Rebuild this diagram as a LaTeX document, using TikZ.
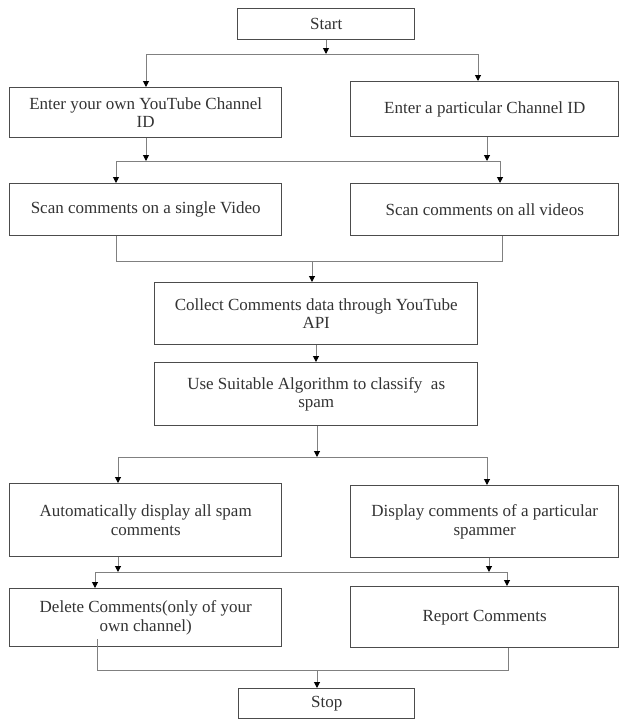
\documentclass[tikz,border=0pt]{standalone}
\usepackage{fontspec}
\setmainfont{Liberation Serif}
\usetikzlibrary{arrows.meta}
\begin{document}
\begin{tikzpicture}[x=1pt,y=-1pt,
  box/.style={draw=black!70, line width=1.4pt, fill=white, text=black!80,
    font=\fontsize{17}{18.5}\selectfont, align=center, inner sep=0pt, anchor=north west},
  conn/.style={draw=black!50, line width=1pt},
  arr/.style={conn, -{Triangle[length=6pt,width=6pt,color=black]}}
]
\useasboundingbox (0,0) rectangle (619,720);

% boxes
\node[box, minimum width=177pt, minimum height=31pt] (start) at (237,8) {Start};
\node[box, minimum width=272pt, minimum height=50pt] (a1) at (9,87) {Enter your own YouTube Channel\\ID};
\node[box, minimum width=268pt, minimum height=55pt] (b1) at (350,81) {Enter a particular Channel ID};
\node[box, minimum width=272pt, minimum height=52pt] (a2) at (9,183) {Scan comments on a single Video};
\node[box, minimum width=268pt, minimum height=52pt] (b2) at (350,183) {Scan comments on all videos};
\node[box, minimum width=323pt, minimum height=62pt] (c) at (154,282) {Collect Comments data through YouTube\\API};
\node[box, minimum width=323pt, minimum height=63pt] (d) at (154,362) {Use Suitable Algorithm to classify \ as\\spam};
\node[box, minimum width=272pt, minimum height=73pt] (e1) at (9,483) {Automatically display all spam\\comments};
\node[box, minimum width=268pt, minimum height=72pt] (e2) at (350,485) {Display comments of a particular\\spammer};
\node[box, minimum width=272pt, minimum height=58pt] (del) at (9,588) {Delete Comments(only of your\\own channel)};
\node[box, minimum width=268pt, minimum height=61pt] (rep) at (350,586) {Report Comments};
\node[box, minimum width=176pt, minimum height=30pt] (stop) at (238,688) {Stop};

% junctions
\coordinate (j1c) at (326,54);
\coordinate (j1l) at (146,54);
\coordinate (j1r) at (478,54);
\coordinate (j2l) at (116,161);
\coordinate (j2r) at (500,161);
\coordinate (j2a) at (146,161);
\coordinate (j2b) at (487,161);
\coordinate (m1l) at (116,261);
\coordinate (m1r) at (502,261);
\coordinate (m1c) at (312,261);
\coordinate (cd) at (316,0);
\coordinate (j3c) at (317,457);
\coordinate (j3l) at (118,457);
\coordinate (j3r) at (487,457);
\coordinate (j4l) at (95,572);
\coordinate (j4r) at (507,572);
\coordinate (j4a) at (118,572);
\coordinate (j4b) at (489,572);
\coordinate (m2l) at (97,670);
\coordinate (m2r) at (508,670);
\coordinate (m2c) at (317,670);

% start split
\draw[conn] (j1l) -- (j1r);
\draw[arr] (start.south -| j1c) -- (j1c);
\draw[arr] (j1l) -- (j1l |- a1.north);
\draw[arr] (j1r) -- (j1r |- b1.north);

% second split
\draw[conn] (j2l) -- (j2r);
\draw[arr] (a1.south -| j2a) -- (j2a);
\draw[arr] (b1.south -| j2b) -- (j2b);
\draw[arr] (j2l) -- (j2l |- a2.north);
\draw[arr] (j2r) -- (j2r |- b2.north);

% merge to collect
\draw[conn] (a2.south -| m1l) -- (m1l) -- (m1r) -- (b2.south -| m1r);
\draw[arr] (m1c) -- (m1c |- c.north);
\draw[arr] (c.south -| cd) -- (d.north -| cd);

% split after classify
\draw[conn] (j3l) -- (j3r);
\draw[arr] (d.south -| j3c) -- (j3c);
\draw[arr] (j3l) -- (j3l |- e1.north);
\draw[arr] (j3r) -- (j3r |- e2.north);

% split to actions
\draw[conn] (j4l) -- (j4r);
\draw[arr] (e1.south -| j4a) -- (j4a);
\draw[arr] (e2.south -| j4b) -- (j4b);
\draw[arr] (j4l) -- (j4l |- del.north);
\draw[arr] (j4r) -- (j4r |- rep.north);

% merge to stop
\draw[conn] ([yshift=8pt]del.south -| m2l) -- (m2l) -- (m2r) -- (rep.south -| m2r);
\draw[arr] (m2c) -- (m2c |- stop.north);
\end{tikzpicture}
\end{document}
